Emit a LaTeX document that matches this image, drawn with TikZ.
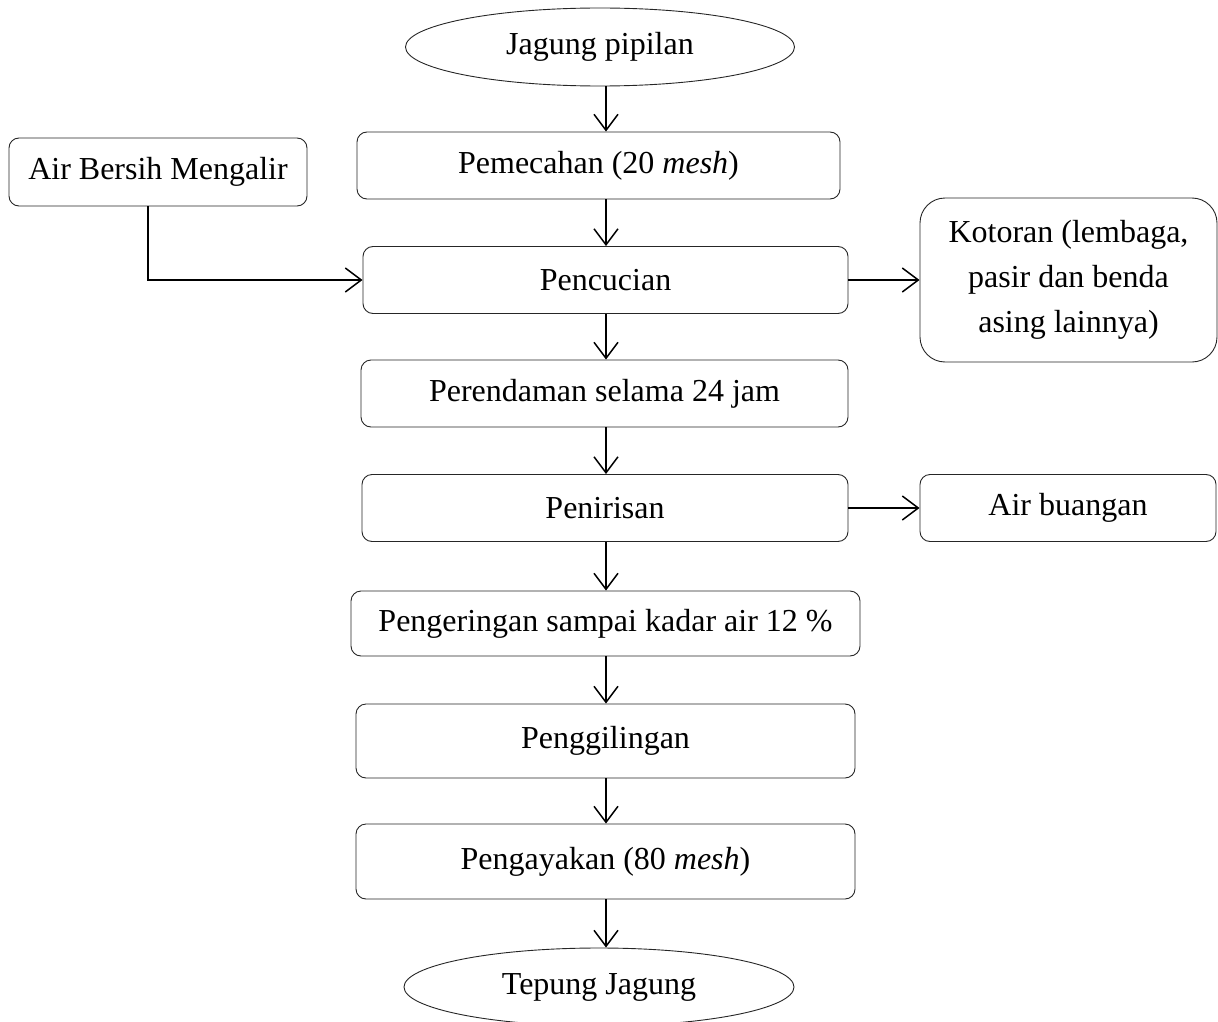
\documentclass[tikz,border=0pt]{standalone}
\usepackage{fontspec}
\setmainfont{Liberation Serif}
\usetikzlibrary{arrows.meta,shapes.geometric,calc}
\begin{document}
\begin{tikzpicture}[x=1pt,y=-1pt,
  every node/.style={font=\fontsize{32}{45}\selectfont, inner sep=0pt},
  procbox/.style={draw=black!85, line width=0.9pt, rounded corners=10pt, rectangle, align=center},
  termell/.style={draw=black!85, line width=0.9pt, ellipse},
  flow/.style={line width=1.5pt, -{Straight Barb[length=16pt,width=24pt,line width=1.5pt]}}
]
\useasboundingbox (0,0) rectangle (1218,1022);
\node[termell, minimum width=389pt, minimum height=78pt] (e1) at (600,47) {Jagung pipilan};
\node[procbox, minimum width=483pt, minimum height=67pt] (b1) at (598.5,165.5) {Pemecahan (20 \textit{mesh})};
\node[procbox, minimum width=298pt, minimum height=68pt] (air) at (158,172) {Air Bersih Mengalir};
\node[procbox, minimum width=485pt, minimum height=67pt] (b2) at (605.5,280) {Pencucian};
\node[procbox, rounded corners=25pt, minimum width=297pt, minimum height=164pt] (kot) at (1068.5,280) {Kotoran (lembaga,\\pasir dan benda\\asing lainnya)};
\node[procbox, minimum width=487pt, minimum height=67pt] (b3) at (604.5,393.5) {Perendaman selama 24 jam};
\node[procbox, minimum width=486pt, minimum height=67pt] (b4) at (605,508) {Penirisan};
\node[procbox, minimum width=296pt, minimum height=67pt] (ab) at (1068,508) {Air buangan};
\node[procbox, minimum width=509pt, minimum height=65pt] (b5) at (605.5,623.5) {Pengeringan sampai kadar air 12 \%};
\node[procbox, minimum width=499pt, minimum height=74pt] (b6) at (605.5,741) {Penggilingan};
\node[procbox, minimum width=499pt, minimum height=75pt] (b7) at (605.5,861.5) {Pengayakan (80 \textit{mesh})};
\node[termell, minimum width=390pt, minimum height=78pt] (e2) at (599,987) {Tepung Jagung};
\coordinate (ax) at (606,0);
\coordinate (ac) at (148,0);
\draw[flow] (ax |- e1.south) -- (ax |- b1.north);
\draw[flow] (ax |- b1.south) -- (ax |- b2.north);
\draw[flow] (ax |- b2.south) -- (ax |- b3.north);
\draw[flow] (ax |- b3.south) -- (ax |- b4.north);
\draw[flow] (ax |- b4.south) -- (ax |- b5.north);
\draw[flow] (ax |- b5.south) -- (ax |- b6.north);
\draw[flow] (ax |- b6.south) -- (ax |- b7.north);
\draw[flow] (ax |- b7.south) -- (ax |- e2.north);
\draw[flow] (ac |- air.south) |- (b2.west);
\draw[flow] (b2.east) -- (kot.west);
\draw[flow] (b4.east) -- (ab.west);
\end{tikzpicture}
\end{document}
